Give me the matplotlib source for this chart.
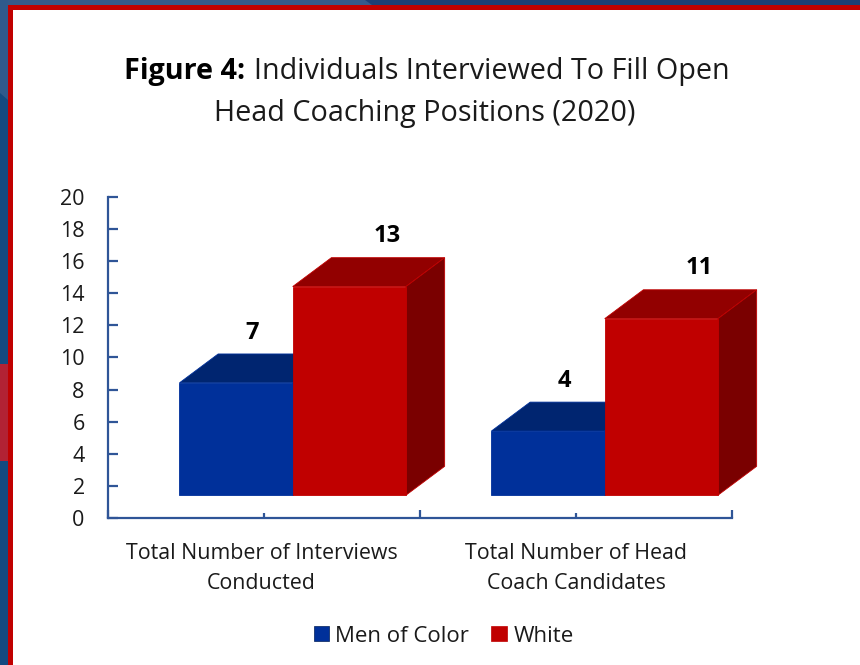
import matplotlib
matplotlib.use("Agg")
import matplotlib.pyplot as plt
from matplotlib.patches import Polygon, Patch, Rectangle
from matplotlib.transforms import ScaledTranslation

categories = ["Total Number of Interviews\nConducted", "Total Number of Head\nCoach Candidates"]
series_names = ["Men of Color", "White"]
men_of_color = [7, 4]
white = [13, 11]
y_ticks = list(range(0, 21, 2))

W, H = 860, 665
FONT = "Open Sans"
plt.rcParams["font.family"] = [FONT, "DejaVu Sans"]
TXT = "#1a1a1a"
AXC = "#2f5597"

fig = plt.figure(figsize=(W / 100, H / 100), dpi=100, facecolor="white")

# page backdrop in pixel coordinates
bg = fig.add_axes([0, 0, 1, 1], zorder=0)
bg.set_xlim(0, W); bg.set_ylim(H, 0); bg.axis("off")
bg.add_patch(Rectangle((0, 0), W, 5, fc="#1c3f75", lw=0))
bg.add_patch(Polygon([(0, 0), (365, 0), (372, 5), (0, 5)], fc="#345a8a", lw=0))
bg.add_patch(Rectangle((0, 0), 8, H, fc="#134a80", lw=0))
bg.add_patch(Polygon([(0, 0), (8, 0), (8, 100), (0, 93)], fc="#2f5a8c", lw=0))
bg.add_patch(Rectangle((0, 364), 8, 97, fc="#b22234", lw=0))
bg.add_patch(Rectangle((8, 5), 5, H, fc="#c00000", lw=0))
bg.add_patch(Rectangle((8, 5), W, 5, fc="#c00000", lw=0))

ax = fig.add_axes([108 / W, 1 - 518 / H, 624 / W, 321 / H], zorder=1)
ax.patch.set_alpha(0)
ax.set_xlim(-0.5, 1.5)
ax.set_ylim(0, 20)

floor = 1.42
bar_w = 0.363
depth_x = 0.124
depth_y = 1.8
front_left = -0.271

styles = [("#00309a", "#002570", "#001d58"), ("#c00000", "#920000", "#7a0000")]
label_dx = [0.053, 0.12]
label_dy = 4.55


def box(x, v, cols):
    f, t, s = cols
    top = floor + v
    ax.add_patch(Polygon([(x, floor), (x + bar_w, floor), (x + bar_w, top), (x, top)],
                         fc=f, ec=f, lw=0.6, zorder=4, clip_on=False))
    ax.add_patch(Polygon([(x, top), (x + bar_w, top), (x + bar_w + depth_x, top + depth_y),
                          (x + depth_x, top + depth_y)], fc=t, ec=f, lw=0.6, zorder=3, clip_on=False))
    ax.add_patch(Polygon([(x + bar_w, floor), (x + bar_w + depth_x, floor + depth_y),
                          (x + bar_w + depth_x, top + depth_y), (x + bar_w, top)],
                         fc=s, ec=f, lw=0.6, zorder=3, clip_on=False))


for i, vals in enumerate([men_of_color, white]):
    for j, v in enumerate(vals):
        x = j + front_left + i * bar_w
        box(x, v, styles[i])
        ax.text(x + bar_w / 2 + label_dx[i], v + label_dy, str(v), ha="center", va="center",
                fontsize=17, fontweight="bold", color="black", zorder=6)

for s in ("top", "right"):
    ax.spines[s].set_visible(False)
for s in ("left", "bottom"):
    ax.spines[s].set_color(AXC)
    ax.spines[s].set_linewidth(1.6)

ax.set_yticks(y_ticks)
ax.tick_params(axis="y", direction="in", length=7, width=1.6, color=AXC, labelsize=15.5,
               labelcolor=TXT, pad=16.8)
ax.set_xticks([0, 1])
ax.set_xticklabels(categories, linespacing=1.55)
ax.tick_params(axis="x", direction="in", length=3.5, width=1.6, color=AXC, labelsize=15.4,
               labelcolor=TXT, pad=18)
ax.set_xticks([-0.5, 0.5, 1.5], minor=True)
ax.tick_params(axis="x", which="minor", direction="in", length=5.5, width=1.6, color=AXC)
lab0 = ax.get_xticklabels()[0]
lab0.set_transform(lab0.get_transform() + ScaledTranslation(-2.5 / 100, 0, fig.dpi_scale_trans))

# title, bold lead-in followed by regular text
fig.text(124 / W, 1 - 72 / H, "Figure 4:", fontsize=20.7, fontweight="bold", color="black",
         ha="left", va="center")
fig.text(254 / W, 1 - 72 / H, "Individuals Interviewed To Fill Open", fontsize=20.7, color=TXT,
         ha="left", va="center")
fig.text(425 / W, 1 - 113 / H, "Head Coaching Positions (2020)", fontsize=20.7, color=TXT,
         ha="center", va="center")

handles = [Patch(fc=styles[0][0], ec=styles[0][2], lw=0.5), Patch(fc=styles[1][0], ec=styles[1][0], lw=0.5)]
fig.legend(handles, series_names, loc="center", bbox_to_anchor=(443.5 / W, 1 - 636 / H), ncol=2,
           frameon=False, fontsize=16, handlelength=0.68, handleheight=0.68, handletextpad=0.3,
           columnspacing=1.0, labelcolor=TXT, borderpad=0)

fig.savefig("out.png", dpi=100, facecolor="white")
